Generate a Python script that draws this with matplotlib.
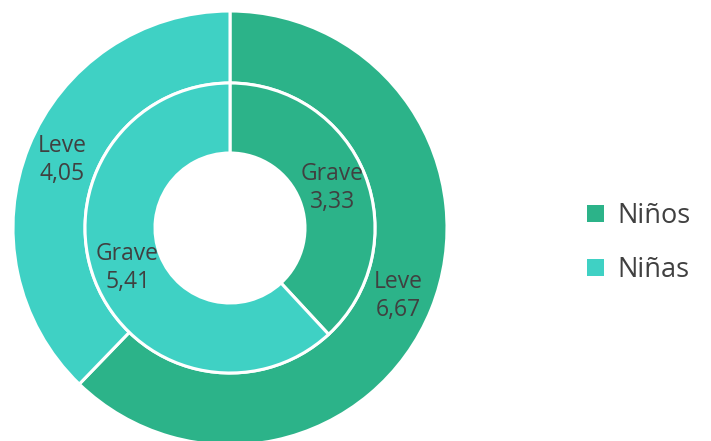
import matplotlib
matplotlib.use("Agg")
import matplotlib.pyplot as plt
import numpy as np
from matplotlib.patches import Patch

categories = ["Niños", "Niñas"]
leve = [6.67, 4.05]
grave = [3.33, 5.41]
colors = ["#2CB389", "#3FD1C4"]
text_color = "#404040"

plt.rcParams['font.family'] = ['Open Sans', 'DejaVu Sans']

W, H = 711, 441
fig = plt.figure(figsize=(W / 100, H / 100), dpi=100)
ax = fig.add_axes([0, 0, 1, 1])
ax.set_xlim(0, W)
ax.set_ylim(0, H)
ax.set_aspect('equal')
ax.axis('off')

cx, cy = 230, H - 228
R_out, R_mid, R_in = 217, 145, 75

def ring(values, r_outer, width, name):
    wedges, _ = ax.pie(values, radius=r_outer, center=(cx, cy), startangle=90,
                       counterclock=False, colors=colors,
                       wedgeprops=dict(width=width, edgecolor='white', linewidth=2.2))
    rmid = r_outer - width / 2
    for w, v in zip(wedges, values):
        ang = np.deg2rad((w.theta1 + w.theta2) / 2)
        x = cx + rmid * np.cos(ang)
        y = cy + rmid * np.sin(ang)
        ax.text(x, y, f"{name}\n{v:.2f}".replace('.', ','), ha='center', va='center',
                fontsize=16.5, color=text_color, linespacing=1.2)
    return wedges

ring(leve, R_out, R_out - R_mid, "Leve")
ring(grave, R_mid, R_mid - R_in, "Grave")

ax.set_xlim(0, W)
ax.set_ylim(0, H)

handles = [Patch(facecolor=c, edgecolor='none') for c in colors]
leg = fig.legend(handles, categories, loc='center left', bbox_to_anchor=(563 / W, 1 - 243 / H),
                 frameon=False, fontsize=19.5, handlelength=0.6, handleheight=0.6,
                 handletextpad=0.5, labelspacing=0.95, labelcolor=text_color)

fig.savefig("out.png", dpi=100)
